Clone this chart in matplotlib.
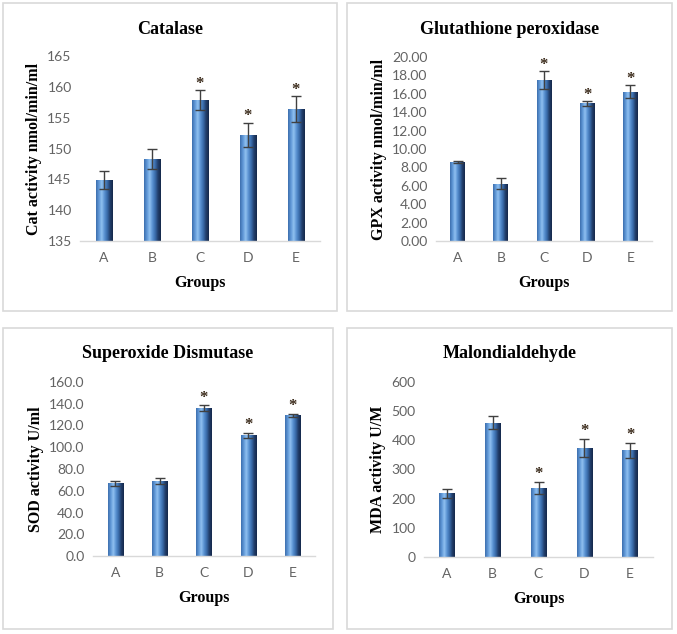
import matplotlib
matplotlib.use("Agg")

import matplotlib.pyplot as plt
import matplotlib.patches as mpatches
import numpy as np
from matplotlib.colors import LinearSegmentedColormap

# ---------------------------------------------------------------------------
# Data
# ---------------------------------------------------------------------------
groups = ["A", "B", "C", "D", "E"]

cat_mean = [144.9, 148.3, 157.9, 152.2, 156.4]
cat_err = [1.5, 1.7, 1.6, 2.0, 2.1]
cat_sig = [False, False, True, True, True]

gpx_mean = [8.6, 6.25, 17.5, 14.95, 16.25]
gpx_err = [0.1, 0.6, 1.0, 0.3, 0.7]
gpx_sig = [False, False, True, True, True]

sod_mean = [66.8, 69.0, 136.1, 111.0, 129.3]
sod_err = [2.6, 2.5, 2.6, 2.3, 1.4]
sod_sig = [False, False, True, True, True]

mda_mean = [218.0, 460.0, 236.0, 374.0, 366.0]
mda_err = [15.0, 22.0, 20.0, 31.0, 25.0]
mda_sig = [False, False, True, True, True]

TITLE_FONT = ["Liberation Serif", "DejaVu Serif"]
TICK_FONT = ["Lato", "DejaVu Sans"]
TICK_COLOR = "#636363"
BORDER = "#d9d9d9"

# cylinder-style shading across each bar (left -> right)
BAR_CMAP = LinearSegmentedColormap.from_list(
    "cyl", ["#3d6fae", "#5f97d6", "#8fc0f0", "#5a92d2", "#3a6cab", "#223f6c", "#15284a"]
)

W, H = 677, 634


def fig_rect(x0, y0, x1, y1):
    """pixel box (top-left origin) -> figure fraction [l, b, w, h]"""
    return [x0 / W, 1 - y1 / H, (x1 - x0) / W, (y1 - y0) / H]


def draw_panel(fig, box, axbox, title, ylabel, means, errs, sig, ylim, yticks, fmt, star_pad):
    # light grey frame round each chart
    fig.patches.append(mpatches.Rectangle(
        (box[0] / W, 1 - box[3] / H), (box[2] - box[0]) / W, (box[3] - box[1]) / H,
        transform=fig.transFigure, fill=False, edgecolor=BORDER, linewidth=1.2))

    ax = fig.add_axes(fig_rect(*axbox))
    x = np.arange(len(groups))
    bars = ax.bar(x, np.array(means) - ylim[0], bottom=ylim[0], width=0.34,
                  color="#4f81bd", edgecolor="none", zorder=2)

    grad = np.linspace(0, 1, 64).reshape(1, -1)
    for b in bars:
        bx, by = b.get_x(), b.get_y()
        im = ax.imshow(grad, cmap=BAR_CMAP, aspect="auto", zorder=2.5,
                       extent=[bx, bx + b.get_width(), by, by + b.get_height()])
        im.set_clip_path(b)

    ax.errorbar(x, means, yerr=errs, fmt="none", ecolor="#404040",
                elinewidth=1.0, capsize=3.5, capthick=1.0, zorder=3)

    for xi, m, e, s in zip(x, means, errs, sig):
        if s:
            ax.text(xi, m + e + star_pad, "*", ha="center", va="center",
                    fontsize=12, color="#3a2a1a", fontweight="bold",
                    family=TITLE_FONT, zorder=4)

    ax.set_xlim(-0.5, len(groups) - 0.5)
    ax.set_ylim(*ylim)
    ax.set_yticks(yticks)
    ax.set_yticklabels([fmt.format(v) for v in yticks], family=TICK_FONT,
                       fontsize=10, color=TICK_COLOR)
    ax.set_xticks(x)
    ax.set_xticklabels(groups, family=TICK_FONT, fontsize=10, color=TICK_COLOR)
    ax.tick_params(length=0, pad=6)
    ax.tick_params(axis="x", pad=8)
    for sp in ["top", "right", "left"]:
        ax.spines[sp].set_visible(False)
    ax.spines["bottom"].set_color(BORDER)
    ax.spines["bottom"].set_linewidth(1.0)

    ax.set_ylabel(ylabel, family=TITLE_FONT, fontweight="bold", fontsize=11.5,
                  color="black", labelpad=4)
    ax.set_xlabel("Groups", family=TITLE_FONT, fontweight="bold", fontsize=11.5,
                  color="black", labelpad=8)

    cx = (box[0] + box[2]) / 2 / W
    fig.text(cx, 1 - (box[1] + 26) / H, title, ha="center", va="center",
             family=TITLE_FONT, fontweight="bold", fontsize=13)
    return ax


fig = plt.figure(figsize=(W / 100, H / 100), dpi=100)
fig.patch.set_facecolor("white")

draw_panel(fig, (3, 3, 337, 311), (80, 56, 320, 241),
           "Catalase", "Cat activity nmol/min/ml",
           cat_mean, cat_err, cat_sig, (135, 165), list(range(135, 166, 5)), "{:.0f}", 1.0)

draw_panel(fig, (347, 3, 672, 311), (436, 57, 652, 241),
           "Glutathione peroxidase", "GPX activity nmol/min/ml",
           gpx_mean, gpx_err, gpx_sig, (0, 20), list(range(0, 21, 2)), "{:.2f}", 0.65)

draw_panel(fig, (3, 328, 333, 629), (93, 382, 315, 556),
           "Superoxide Dismutase", "SOD activity U/ml",
           sod_mean, sod_err, sod_sig, (0, 160), list(range(0, 161, 20)), "{:.1f}", 7)

draw_panel(fig, (347, 328, 672, 629), (424, 382, 653, 557),
           "Malondialdehyde", "MDA activity U/M",
           mda_mean, mda_err, mda_sig, (0, 600), list(range(0, 601, 100)), "{:.0f}", 28)

fig.savefig("out.png", dpi=100)
